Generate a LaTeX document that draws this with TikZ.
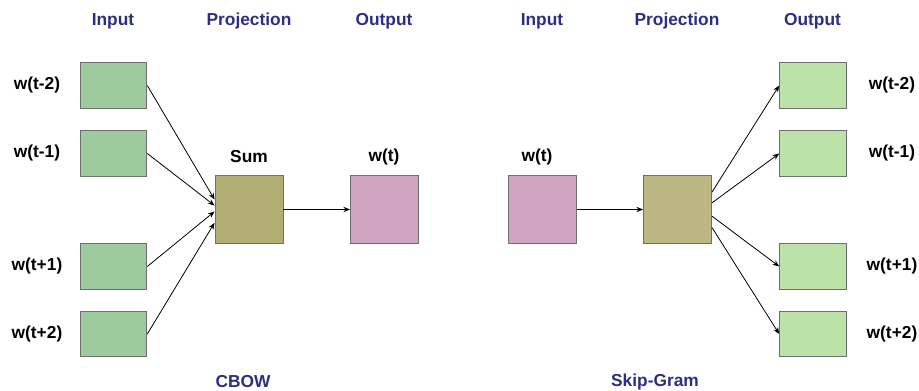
\documentclass[tikz,border=0pt]{standalone}
\usepackage{fontspec}
\setmainfont{Liberation Sans}
\usetikzlibrary{arrows.meta}
\definecolor{headblue}{HTML}{2C2E83}
\definecolor{ingreen}{HTML}{9DCB9D}
\definecolor{outgreen}{HTML}{BCE1A9}
\definecolor{sumolive}{HTML}{B1AD73}
\definecolor{projolive}{HTML}{BBB785}
\definecolor{wordpink}{HTML}{CFA4BF}
\definecolor{edge}{HTML}{6E6E6E}

\begin{document}
\begin{tikzpicture}[x=0.75pt, y=-0.75pt, font=\bfseries\fontsize{13}{15}\selectfont,
  word/.style={draw=edge, line width=0.7pt, minimum width=50pt, minimum height=34pt, inner sep=0pt},
  square/.style={draw=edge, line width=0.7pt, minimum size=51pt, inner sep=0pt},
  head/.style={text=headblue},
  conn/.style={-{Stealth[length=5pt, width=4pt]}, line width=0.6pt}]
\useasboundingbox (0,0) rectangle (919,391);

% CBOW
\node[head] (inhead) at (113,21) {Input};
\node[head] (projhead) at (249,21) {Projection};
\node[head] (outhead) at (384,21) {Output};
\node[word, fill=ingreen] (in1) at (113.5,85.5) {};
\node[word, fill=ingreen] (in2) at (113.5,153.5) {};
\node[word, fill=ingreen] (in3) at (113.5,266.5) {};
\node[word, fill=ingreen] (in4) at (113.5,334) {};
\node (lin1) at (37,85.5) {w(t-2)};
\node (lin2) at (37,153.5) {w(t-1)};
\node (lin3) at (37,266.5) {w(t+1)};
\node (lin4) at (37,334) {w(t+2)};
\node[square, fill=sumolive] (sum) at (249,209.5) {};
\node[square, fill=wordpink] (out) at (384.5,209.5) {};
\node (sumlabel) at (249,157) {Sum};
\node (outlabel) at (384,157) {w(t)};
\draw[conn] (in1.east) -- ([yshift=7.5pt]sum.west);
\draw[conn] (in2.east) -- ([yshift=3pt]sum.west);
\draw[conn] (in3.east) -- ([yshift=-1.5pt]sum.west);
\draw[conn] (in4.east) -- ([yshift=-10pt]sum.west);
\draw[conn] (sum) -- (out);
\node[head] (cbow) at (243,382) {CBOW};

% Skip-Gram
\node[head] (sginhead) at (542,21) {Input};
\node[head] (sgprojhead) at (677,21) {Projection};
\node[head] (sgouthead) at (812.5,21) {Output};
\node[square, fill=wordpink] (sgin) at (542.5,209.5) {};
\node[square, fill=projolive] (sgproj) at (677.5,209.5) {};
\node (sginlabel) at (537,157) {w(t)};
\node[word, fill=outgreen] (out1) at (813,85.5) {};
\node[word, fill=outgreen] (out2) at (813,153.5) {};
\node[word, fill=outgreen] (out3) at (813,266.5) {};
\node[word, fill=outgreen] (out4) at (813,334) {};
\node (lout1) at (892,85.5) {w(t-2)};
\node (lout2) at (892,153.5) {w(t-1)};
\node (lout3) at (892,266.5) {w(t+1)};
\node (lout4) at (892,334) {w(t+2)};
\draw[conn] (sgin) -- (sgproj);
\draw[conn] ([yshift=13pt]sgproj.east) -- (out1.west);
\draw[conn] ([yshift=5pt]sgproj.east) -- (out2.west);
\draw[conn] ([yshift=-5pt]sgproj.east) -- (out3.west);
\draw[conn] ([yshift=-13.5pt]sgproj.east) -- (out4.west);
\node[head] (skipgram) at (655,382) {Skip-Gram};
\end{tikzpicture}
\end{document}
